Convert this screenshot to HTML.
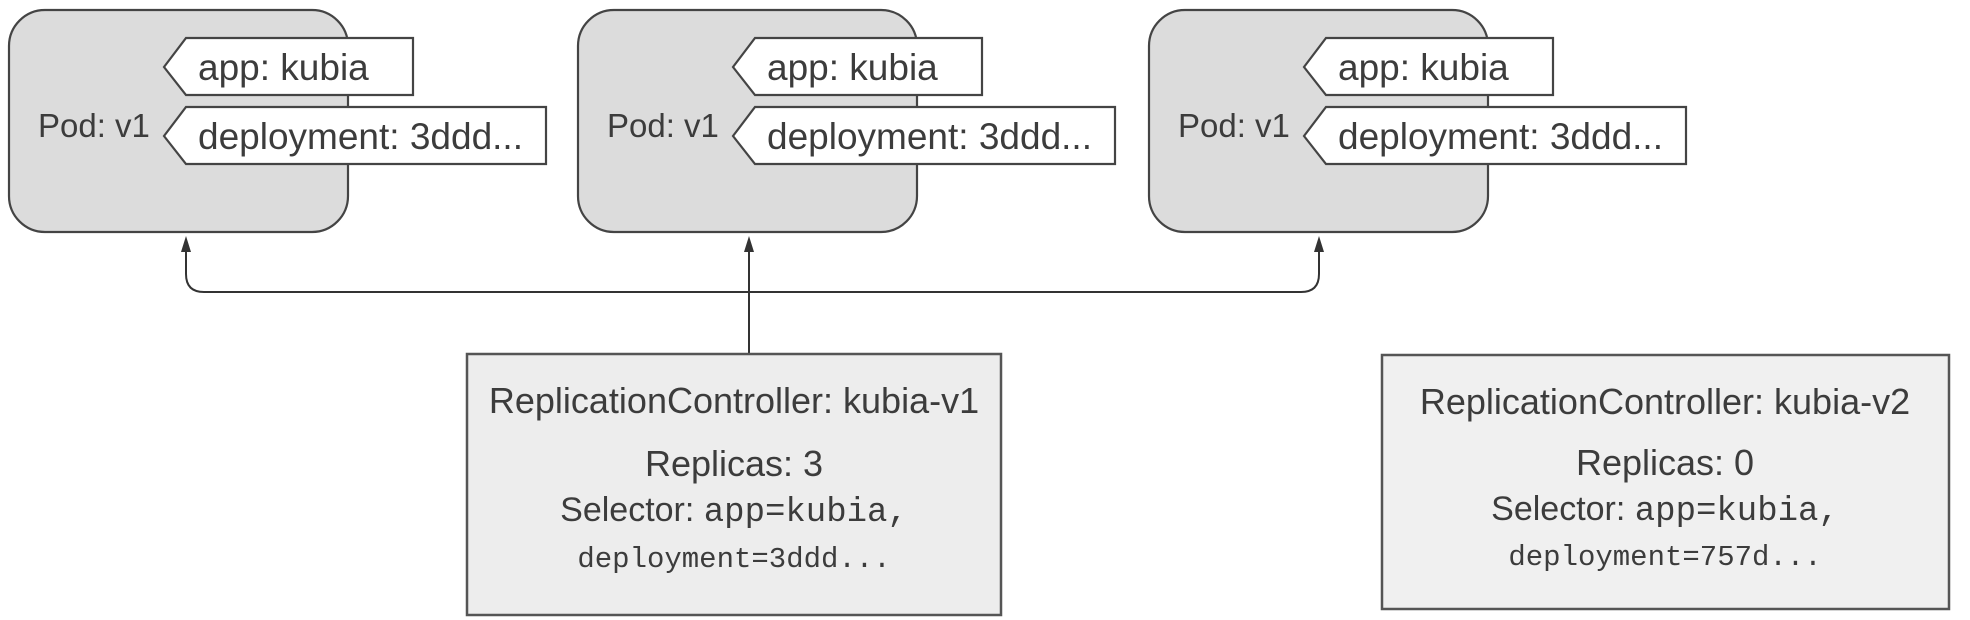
<!DOCTYPE html>
<html><head><style>
html,body{margin:0;padding:0;background:#fff;}
svg{display:block;}
text{font-family:"Liberation Sans",sans-serif;fill:#3c3c3c;}
.m{font-family:"Liberation Mono",monospace;}
</style></head><body>
<svg width="1970" height="620" viewBox="0 0 1970 620" xmlns="http://www.w3.org/2000/svg">
<defs>
<g id="pod">
<rect x="9" y="10" width="339" height="222" rx="36" fill="#dcdcdc" stroke="#444" stroke-width="2.2"/>
<text x="38" y="137" font-size="33">Pod: v1</text>
<polygon points="164,67 186,38 413,38 413,95 186,95" fill="#fff" stroke="#444" stroke-width="2.2"/>
<text x="198" y="80" font-size="37">app: kubia</text>
<polygon points="164,136 186,107 546,107 546,164 186,164" fill="#fff" stroke="#444" stroke-width="2.2"/>
<text x="198" y="149" font-size="37">deployment: 3ddd...</text>
</g>
</defs>
<use href="#pod"/>
<use href="#pod" x="569"/>
<use href="#pod" x="1140"/>
<g fill="none" stroke="#333" stroke-width="2">
<path d="M186 250 V274 Q186 292 204 292 H1301 Q1319 292 1319 274 V250"/>
<path d="M749 250 V354"/>
</g>
<g fill="#333">
<polygon points="186,236 181,252 191,252"/>
<polygon points="749,236 744,252 754,252"/>
<polygon points="1319,236 1314,252 1324,252"/>
</g>
<rect x="467" y="354" width="534" height="261" fill="#ededed" stroke="#555" stroke-width="2.5"/>
<text x="734" y="413" font-size="36" text-anchor="middle">ReplicationController: kubia-v1</text>
<text x="734" y="476" font-size="36" text-anchor="middle">Replicas: 3</text>
<text x="734" y="521" font-size="34" text-anchor="middle">Selector: <tspan class="m" font-size="34">app=kubia,</tspan></text>
<text x="734" y="567" font-size="29" text-anchor="middle" class="m">deployment=3ddd...</text>
<rect x="1382" y="355" width="567" height="254" fill="#f0f0f0" stroke="#555" stroke-width="2.5"/>
<text x="1665" y="414" font-size="36" text-anchor="middle">ReplicationController: kubia-v2</text>
<text x="1665" y="475" font-size="36" text-anchor="middle">Replicas: 0</text>
<text x="1665" y="520" font-size="34" text-anchor="middle">Selector: <tspan class="m" font-size="34">app=kubia,</tspan></text>
<text x="1665" y="565" font-size="29" text-anchor="middle" class="m">deployment=757d...</text>
</svg>
</body></html>
